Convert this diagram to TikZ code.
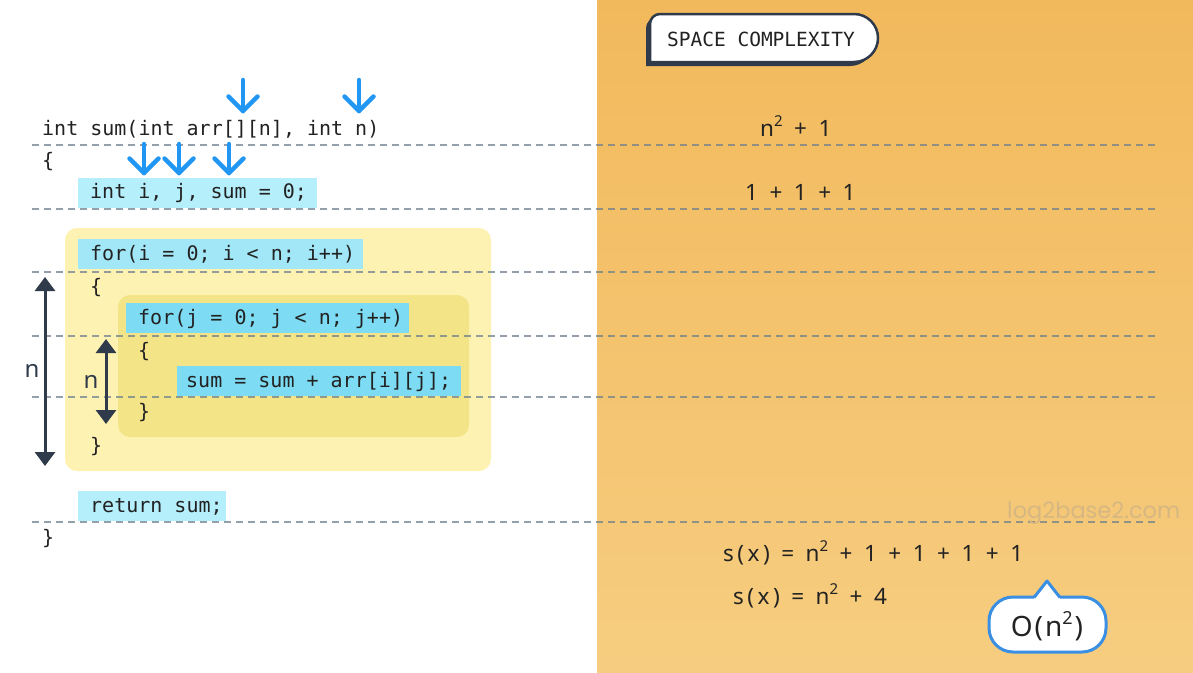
\documentclass[tikz,border=0pt]{standalone}
\usepackage{fontspec}
\setmonofont{DejaVu Sans Mono}
\newfontfamily\plainsans{Noto Sans}
\newfontfamily\wmfont{Poppins}
\usetikzlibrary{arrows.meta}
\definecolor{orTop}{HTML}{F2B95C}
\definecolor{orBot}{HTML}{F6CD80}
\definecolor{hlA}{HTML}{B6EFFC}
\definecolor{hlB}{HTML}{A2E7F7}
\definecolor{hlC}{HTML}{7DDCF3}
\definecolor{yelA}{HTML}{FEF2B3}
\definecolor{yelB}{HTML}{F3E488}
\definecolor{codetext}{HTML}{222222}
\definecolor{darkc}{HTML}{2F3B4B}
\definecolor{bluec}{HTML}{2196F3}
\definecolor{bubblec}{HTML}{3A8FE2}
\definecolor{wmc}{HTML}{D7B781}
\definecolor{dashc}{HTML}{6F808F}
\newcommand{\sqr}{\raisebox{0.42em}{\fontsize{15}{15}\selectfont 2}}
\newcommand{\G}{\hspace{11.5pt}}
\newcommand{\Lg}{\hspace{3.5pt}}
\newcommand{\sx}{s\Lg(\Lg x\Lg)}
\begin{document}
\begin{tikzpicture}[x=1pt,y=-1pt,
  code/.style={font=\ttfamily\fontsize{20}{24}\selectfont, inner sep=0pt, text height=15pt, text depth=4pt, anchor=west, text=codetext},
  rtext/.style={font=\plainsans\fontsize{22.5}{26}\selectfont, inner sep=0pt, anchor=base west, text=codetext},
  dashline/.style={draw=dashc, opacity=0.75, line width=1.1pt, dash pattern=on 7pt off 5pt},
  bluearrow/.style={draw=bluec, line width=4.5pt, line cap=round, line join=round},
  darrow/.style={draw=darkc, line width=3pt, {Triangle[width=20pt,length=14pt]}-{Triangle[width=20pt,length=14pt]}},
  nlabel/.style={font=\plainsans\fontsize{24}{28}\selectfont, text=darkc, inner sep=0pt}
]
\useasboundingbox (0,0) rectangle (1193,672);
\fill[white] (0,0) rectangle (597,672);
\shade[top color=orTop, bottom color=orBot] (597,0) rectangle (1193,672);

% yellow loop boxes
\fill[yelA, rounded corners=12pt] (65,228) rectangle (491,471);
\fill[yelB, rounded corners=12pt] (118,295) rectangle (469,437);

% highlights
\fill[hlA] (78,178) rectangle (317,208);
\fill[hlB] (78,239) rectangle (363,269);
\fill[hlC] (126,303) rectangle (409,333);
\fill[hlC] (177,366) rectangle (461,396);
\fill[hlA] (78,491) rectangle (226,521);

% dashed separators
\foreach \yy in {145,209,272,336,397,522}
  \draw[dashline] (32,\yy) -- (1158,\yy);

% code
\node[code] (l1) at (42,130) {int sum(int arr[][n], int n)};
\node[code] (l2) at (42,162) {\{};
\node[code] (l3) at (90,193) {int i, j, sum = 0;};
\node[code] (l4) at (90,255) {for(i = 0; i < n; i++)};
\node[code] (l5) at (90,288) {\{};
\node[code] (l6) at (138,319) {for(j = 0; j < n; j++)};
\node[code] (l7) at (138,352) {\{};
\node[code] (l8) at (186,382) {sum = sum + arr[i][j];};
\node[code] (l9) at (138,413) {\}};
\node[code] (l10) at (90,447) {\}};
\node[code] (l11) at (90,507) {return sum;};
\node[code] (l12) at (42,539) {\}};

% blue arrows
\foreach \nm/\xx/\ya/\yb in {a/243/80/111, b/359/80/111, c/144/144/173, d/179/144/173, e/229/144/173}{
  \coordinate (\nm s) at (\xx,\ya);
  \coordinate (\nm e) at (\xx,\yb);
  \draw[bluearrow] (\nm s) -- (\nm e);
  \draw[bluearrow] (\nm e) ++(-14.5,-14.5) -- (\nm e) -- ++(14.5,-14.5);
}

% dark double arrows
\coordinate (bigtop) at (45,277);
\coordinate (bigbot) at (45,466);
\coordinate (smtop) at (106,339);
\coordinate (smbot) at (106,424);
\draw[darrow] (bigtop) -- (bigbot);
\draw[darrow] (smtop) -- (smbot);
\node[nlabel] (nbig) at (32,371) {n};
\node[nlabel] (nsm) at (91,382) {n};

% right side texts
\node[rtext] (r1) at (760,136) {n\sqr\G+\G1};
\node[rtext] (r2) at (745,200) {1\G+\G1\G+\G1};
\node[rtext] (r3) at (723,561) {\sx\G=\G n\sqr\G+\G1\G+\G1\G+\G1\G+\G1};
\node[rtext] (r4) at (733,604) {\sx\G=\G n\sqr\G+\G4};

% watermark
\node[font=\wmfont\fontsize{22.5}{26}\selectfont, text=wmc, inner sep=0pt, anchor=base west] (wm) at (1007,518) {log2base2.com};

% badge
\fill[darkc] (646,66) -- (646,28) arc[start angle=180,end angle=270,radius=10] -- (850,18) arc[start angle=-90,end angle=90,radius=24] -- cycle;
\draw[darkc, line width=2.5pt, fill=white] (650,62) -- (650,24) arc[start angle=180,end angle=270,radius=10] -- (854,14) arc[start angle=-90,end angle=90,radius=24] -- cycle;
\node[font=\ttfamily\fontsize{19.5}{22}\selectfont, text=codetext, inner sep=0pt] (badge) at (761,39) {SPACE COMPLEXITY};

% O(n^2) bubble
\draw[bubblec, line width=3pt, fill=white, rounded corners=24pt] (989,597) rectangle (1106,652);
\fill[white] (1033,600) -- (1047,581) -- (1061,600) -- cycle;
\draw[bubblec, line width=3pt, line join=round] (1034,597.5) -- (1047,581) -- (1060,597.5);
\node[font=\plainsans\fontsize{28}{32}\selectfont, text=codetext, inner sep=0pt] (big) at (1047,626) {O\hspace{2pt}(\hspace{2pt}n\raisebox{0.42em}{\fontsize{18}{18}\selectfont 2}\hspace{2pt})};
\end{tikzpicture}
\end{document}
